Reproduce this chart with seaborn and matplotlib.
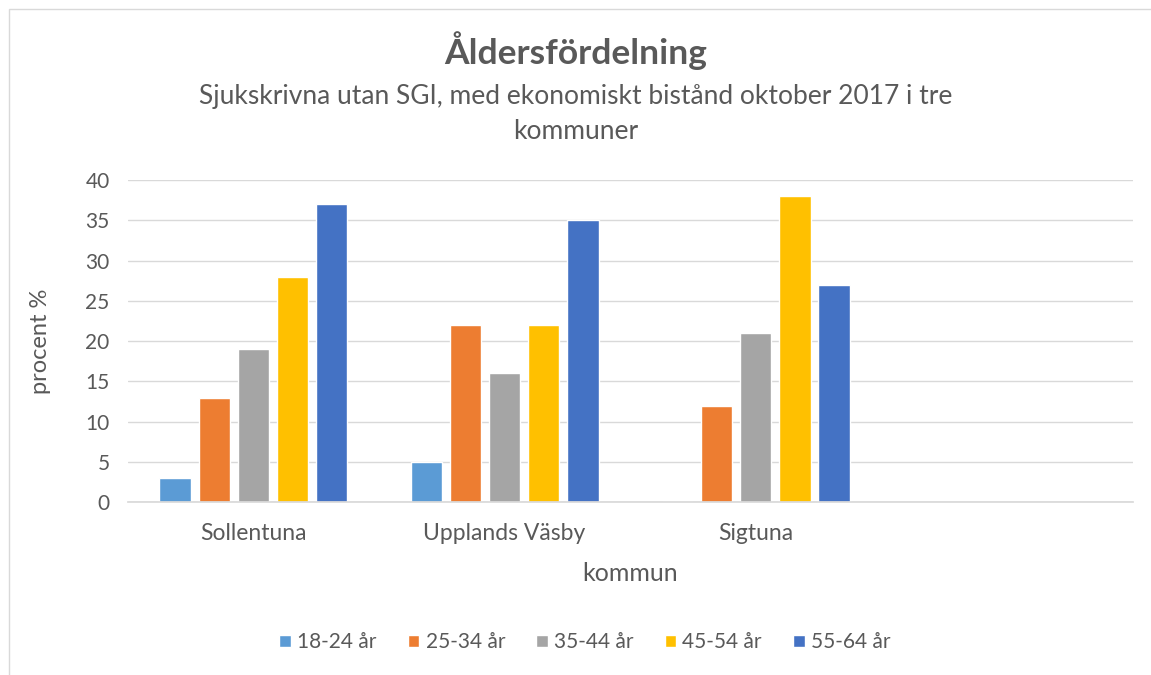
import numpy as np
import pandas as pd
import matplotlib
matplotlib.use("Agg")
import matplotlib.pyplot as plt
import seaborn as sns

# data
kommuner = ["Sollentuna", "Upplands Väsby", "Sigtuna", ""]
aldersgrupper = ["18-24 år", "25-34 år", "35-44 år", "45-54 år", "55-64 år"]
andel_18_24 = [3, 5, 0, np.nan]
andel_25_34 = [13, 22, 12, np.nan]
andel_35_44 = [19, 16, 21, np.nan]
andel_45_54 = [28, 22, 38, np.nan]
andel_55_64 = [37, 35, 27, np.nan]
farger = ["#5B9BD5", "#ED7D31", "#A5A5A5", "#FFC000", "#4472C4"]

serier = [andel_18_24, andel_25_34, andel_35_44, andel_45_54, andel_55_64]
rows = []
for grupp, vals in zip(aldersgrupper, serier):
    for k, v in zip(kommuner, vals):
        rows.append({"kommun": k, "grupp": grupp, "procent": v})
df = pd.DataFrame(rows)

sns.set_theme(style="white")
plt.rcParams["font.family"] = ["Lato", "DejaVu Sans"]
textfarg = "#595959"

fig = plt.figure(figsize=(11.51, 6.75), dpi=100)
ax = fig.add_axes([0.111, 0.256, 0.873, 0.477])

sns.barplot(data=df, x="kommun", y="procent", hue="grupp", order=kommuner,
            hue_order=aldersgrupper, palette=farger, width=0.78, gap=0.2,
            saturation=1, ax=ax, legend=True)

ax.set_ylim(0, 40)
ax.set_yticks(range(0, 41, 5))
ax.yaxis.grid(True, color="#D9D9D9", linewidth=1)
ax.set_axisbelow(True)
for s in ["top", "right", "left"]:
    ax.spines[s].set_visible(False)
ax.spines["bottom"].set_color("#D9D9D9")
ax.tick_params(axis="y", length=0, labelsize=15, colors=textfarg, pad=13)
ax.tick_params(axis="x", length=0, labelsize=16.5, colors=textfarg, pad=15)
ax.set_xlabel("kommun", fontsize=18, color=textfarg, labelpad=13)
ax.set_ylabel("procent %", fontsize=17, color=textfarg, labelpad=25)

ax.legend(loc="center", bbox_to_anchor=(0.455, -0.435), ncol=5,
          frameon=False, fontsize=15, labelcolor=textfarg, handlelength=0.55,
          handleheight=0.55, columnspacing=1.5, handletextpad=0.3)

fig.text(0.5, 0.925, "Åldersfördelning", ha="center", va="center",
         fontsize=25.5, fontweight="bold", color=textfarg)
fig.text(0.5, 0.857, "Sjukskrivna utan SGI, med ekonomiskt bistånd oktober 2017 i tre",
         ha="center", va="center", fontsize=19, color=textfarg)
fig.text(0.5, 0.805, "kommuner", ha="center", va="center", fontsize=19, color=textfarg)

# chart frame like the Excel chart area
fig.add_artist(plt.Rectangle((9 / 1151, -0.1), 1.2, 1 - 9 / 675 + 0.1,
                             transform=fig.transFigure, fill=False,
                             edgecolor="#D9D9D9", linewidth=1))

fig.savefig("out.png", dpi=100, facecolor="white")
